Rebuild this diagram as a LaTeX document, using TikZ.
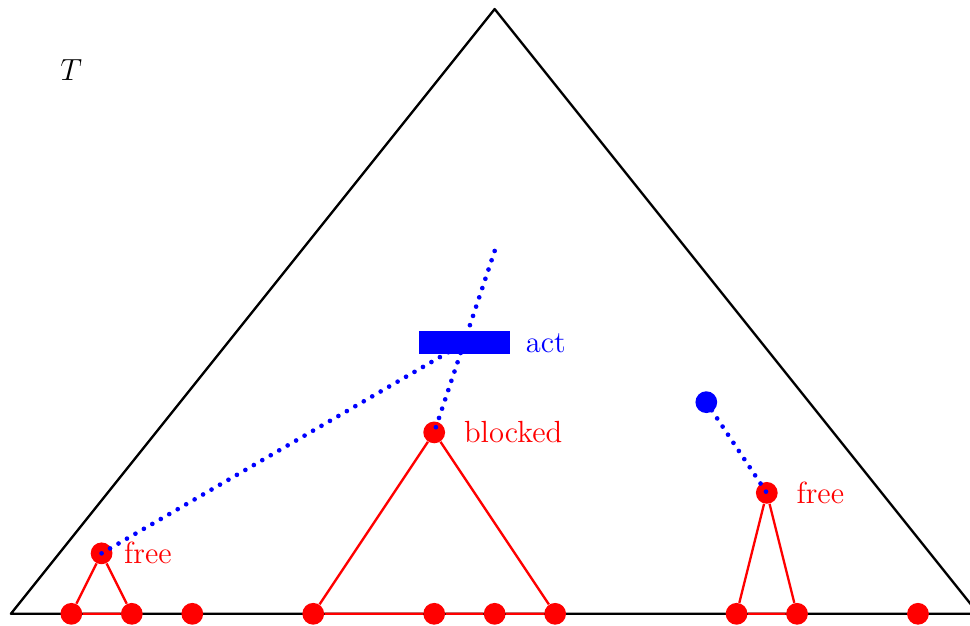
\documentclass[tikz,border=0pt]{standalone}
\usetikzlibrary{positioning}
\tikzset{
  rdot/.style={circle, fill=red, inner sep=0pt, minimum size=0.36cm},
  bdot/.style={circle, fill=blue, inner sep=0pt, minimum size=0.36cm},
  outer/.style={line width=1.1pt, line join=round},
  sub/.style={red, line width=1.1pt, line join=round},
  walk/.style={blue, line width=2.2pt, line cap=round, dash pattern=on 0pt off 4.6pt},
  actbox/.style={fill=blue, inner sep=0pt, minimum width=1.5cm, minimum height=0.38cm},
  lbl/.style={font=\Large, inner sep=0pt}
}
\begin{document}
\begin{tikzpicture}
	\useasboundingbox (-8.18,-0.2) rectangle (7.86,10.15);
	% the whole tree
	\coordinate (L) at (-8,0);
	\coordinate (R) at (8,0);
	\coordinate (A) at (0,10);
	\draw[outer] (L) -- (A) -- (R) -- cycle;
	\node[font=\Large] (T) at (-7,9) {$T$};
	% leaves and subtrees
	\foreach \x/\n in {-7/l1, -6/l2, -5/l3, -3/l4, -1/l5, 0/l6, 1/l7, 4/l8, 5/l9, 7/l10}
		\node[rdot] (\n) at (\x,0) {};
	\node[rdot] (f1) at (-6.5,1) {};
	\node[rdot] (blk) at (-1,3) {};
	\node[rdot] (f2) at (4.5,2) {};
	\draw[sub] (l1) -- (f1) -- (l2) -- (l1);
	\draw[sub] (l4) -- (blk) -- (l7) -- (l6) -- (l5) -- (l4);
	\draw[sub] (l8) -- (f2) -- (l9) -- (l8);
	% walks
	\coordinate (top) at (0,6);
	\coordinate (hub) at (-0.5,4.48);
	\node[bdot] (v) at (3.5,3.5) {};
	\draw[walk] (top) -- (blk.center);
	\draw[walk] (f1.center) -- (hub);
	\draw[walk] (v.center) -- (f2.center);
	\node[actbox] (act) at (hub) {};
	% labels
	\node[lbl, red, right=0.18cm of f1] (f1lbl) {free};
	\node[lbl, red, right=0.3cm of blk] (blklbl) {blocked};
	\node[lbl, red, right=0.3cm of f2] (f2lbl) {free};
	\node[lbl, blue, right=0.25cm of act] (actlbl) {act};
\end{tikzpicture}
\end{document}
